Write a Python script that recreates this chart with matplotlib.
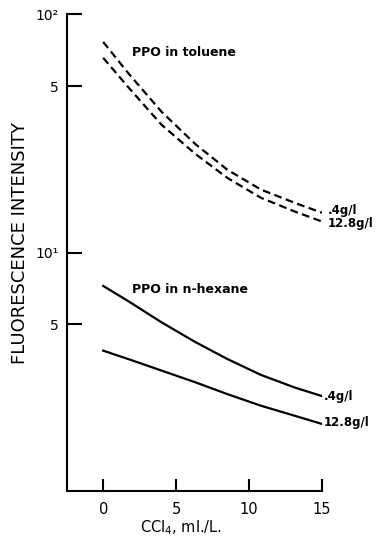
import matplotlib
matplotlib.use("Agg")
import matplotlib.pyplot as plt
from matplotlib.ticker import FixedLocator, FixedFormatter, NullLocator

# CCl4 concentration (ml/L)
ccl4 = [0, 1.7, 4.0, 6.3, 8.5, 10.8, 13.1, 15.0]

# PPO in toluene (dashed)
tol_04 = [76.6, 56.8, 39.0, 28.6, 22.3, 18.4, 16.2, 14.7]
tol_128 = [65.7, 49.6, 34.4, 26.0, 20.6, 17.0, 14.9, 13.5]

# PPO in n-hexane (solid)
hex_04 = [7.25, 6.27, 5.10, 4.22, 3.58, 3.07, 2.72, 2.50]
hex_128 = [3.88, 3.58, 3.20, 2.86, 2.55, 2.28, 2.07, 1.91]

yticks = [100, 50, 10, 5]
ytick_labels = ["10²", "5", "10¹", "5"]
xticks = [0, 5, 10, 15]
xtick_labels = ["0", "5", "10", "15"]

fig = plt.figure(figsize=(3.79, 5.37), dpi=100)
ax = fig.add_axes([0.176, 0.0857, 0.674, 0.8876])

lw = 1.6
dash = (0, (3.5, 2.0))
ax.plot(ccl4, tol_04, color="black", lw=lw, linestyle=dash)
ax.plot(ccl4, tol_128, color="black", lw=lw, linestyle=dash)
ax.plot(ccl4, hex_04, color="black", lw=lw)
ax.plot(ccl4, hex_128, color="black", lw=lw)

ax.set_yscale("log")
ax.set_ylim(1, 100)
ax.set_xlim(-2.5, 15)

ax.yaxis.set_major_locator(FixedLocator(yticks))
ax.yaxis.set_major_formatter(FixedFormatter(ytick_labels))
ax.yaxis.set_minor_locator(NullLocator())
ax.xaxis.set_major_locator(FixedLocator(xticks))
ax.xaxis.set_major_formatter(FixedFormatter(xtick_labels))

for s in ["top", "right"]:
    ax.spines[s].set_visible(False)
for s in ["left", "bottom"]:
    ax.spines[s].set_linewidth(1.5)
ax.spines["bottom"].set_bounds(-2.5, 15)

ax.tick_params(axis="y", direction="in", length=11, width=1.5, labelsize=10, pad=6)
ax.tick_params(axis="x", direction="in", length=9, width=1.5, labelsize=10.5, pad=8)

ax.set_ylabel("FLUORESCENCE INTENSITY", fontsize=13)
ax.yaxis.set_label_coords(-0.147, 0.52)
ax.set_xlabel("CCl$_4$, ml./L.", fontsize=10.5)
ax.xaxis.set_label_coords(0.447, -0.058)

tfont = dict(fontsize=9, fontweight="bold", color="black", family="DejaVu Sans")
rfont = dict(fontsize=8.5, fontweight="bold", color="black", family="DejaVu Sans")
ax.text(2.0, 69, "PPO in toluene", va="center", ha="left", **tfont)
ax.text(2.0, 7.0, "PPO in n-hexane", va="center", ha="left", **tfont)
ax.text(15.35, 15.0, ".4g/l", va="center", ha="left", **rfont)
ax.text(15.35, 13.3, "12.8g/l", va="center", ha="left", **rfont)
ax.text(15.1, 2.5, ".4g/l", va="center", ha="left", **rfont)
ax.text(15.1, 1.94, "12.8g/l", va="center", ha="left", **rfont)

fig.savefig("out.png", dpi=100)
